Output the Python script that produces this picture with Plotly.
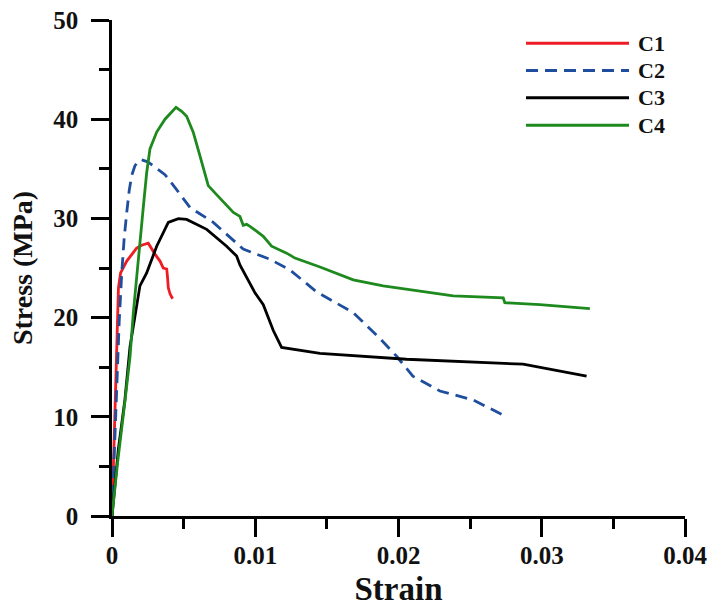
import plotly.graph_objects as go

# ---- data ----
c1_strain = [0, 0.0001, 0.0002, 0.00028, 0.00037, 0.00045, 0.0006, 0.0008, 0.00103, 0.0014,
             0.00172, 0.00207, 0.00253, 0.0030, 0.00335, 0.00358, 0.00382, 0.00388, 0.00393,
             0.00405, 0.00423]
c1_stress = [0, 5, 10, 15, 20.5, 23, 24.5, 25.0, 25.7, 26.4, 27.0, 27.3, 27.5, 26.4, 25.7,
             25.0, 24.9, 24.0, 23.0, 22.4, 21.9]

c2_strain = [0, 0.0001, 0.0002, 0.00033, 0.0005, 0.00068, 0.00085, 0.00103, 0.0012, 0.00137,
             0.0016, 0.00184, 0.00207, 0.0025, 0.00289, 0.0033, 0.0037, 0.00451, 0.00544,
             0.00707, 0.00916, 0.0110, 0.01242, 0.01428, 0.01684, 0.0187, 0.01987, 0.0210,
             0.02289, 0.02521, 0.02615, 0.02754]
c2_stress = [0, 4, 8.5, 13.7, 19.5, 24.5, 28, 30.6, 32.8, 34.3, 35.3, 35.8, 35.9, 35.7, 35.3,
             34.9, 34.4, 32.9, 31.1, 29.6, 26.9, 25.9, 24.8, 22.6, 20.5, 17.9, 16.1, 14.1,
             12.6, 11.7, 11.0, 10.0]

c3_strain = [0, 0.00044, 0.0009, 0.00126, 0.00195, 0.00242, 0.00312, 0.00393, 0.00463, 0.00521,
             0.00661, 0.0080, 0.0087, 0.00893, 0.00998, 0.01056, 0.01126, 0.01184, 0.01452,
             0.02056, 0.0287, 0.03313]
c3_stress = [0, 6.7, 11.7, 17.1, 23.2, 24.5, 27.2, 29.6, 29.97, 29.9, 28.9, 27.2, 26.2, 25.3,
             22.5, 21.3, 18.7, 17.0, 16.4, 15.8, 15.3, 14.1]

c4_strain = [0, 0.0004, 0.0009, 0.00126, 0.00149, 0.00172, 0.00195, 0.00219, 0.00242, 0.00265,
             0.00312, 0.0037, 0.00447, 0.00486, 0.00521, 0.00567, 0.00614, 0.00672, 0.0073,
             0.00847, 0.00893, 0.00916, 0.0094, 0.00963, 0.01056, 0.01114, 0.01219, 0.01277,
             0.01452, 0.01684, 0.01893, 0.02126, 0.02382, 0.02731, 0.02742, 0.02987, 0.03336]
c4_stress = [0, 5.5, 11.5, 16.1, 20.5, 23.8, 27.5, 31.2, 34.6, 37.0, 38.7, 40.0, 41.2, 40.8,
             40.3, 38.7, 36.3, 33.3, 32.4, 30.6, 30.2, 29.3, 29.4, 29.2, 28.2, 27.2, 26.5,
             26.0, 25.1, 23.8, 23.2, 22.7, 22.2, 22.0, 21.5, 21.3, 20.9]

series_names = ["C1", "C2", "C3", "C4"]
x_ticks = [0, 0.01, 0.02, 0.03, 0.04]
x_tick_labels = ["0", "0.01", "0.02", "0.03", "0.04"]
y_ticks = [0, 10, 20, 30, 40, 50]
y_tick_labels = ["0", "10", "20", "30", "40", "50"]

# ---- styling ----
FONT = "Liberation Serif"
colors = ["#ee1c24", "#1f4e9e", "#000000", "#1e8a1e"]
dashes = ["solid", "12px,7px", "solid", "solid"]
xs = [c1_strain, c2_strain, c3_strain, c4_strain]
ys = [c1_stress, c2_stress, c3_stress, c4_stress]

fig = go.Figure()
for name, x, y, c, d in zip(series_names, xs, ys, colors, dashes):
    fig.add_trace(go.Scatter(x=x, y=y, mode="lines", name=name,
                             line=dict(color=c, width=2.8, dash=d),
                             showlegend=False))

# custom legend (long line samples)
leg_y = [0.953, 0.898, 0.843, 0.788]
for name, c, d, yy in zip(series_names, colors, dashes, leg_y):
    fig.add_shape(type="line", xref="paper", yref="paper",
                  x0=0.7225, x1=0.9023, y0=yy, y1=yy,
                  line=dict(color=c, width=3, dash=d))
    fig.add_annotation(xref="paper", yref="paper", x=0.914, y=yy,
                       text="<b>%s</b>" % name, showarrow=False,
                       xanchor="left", yanchor="middle",
                       font=dict(family=FONT, size=22, color="#111111"))

axis_common = dict(
    showline=True, linecolor="black", linewidth=2.6,
    ticks="outside", ticklen=18, tickwidth=2.6, tickcolor="black",
    showgrid=False, zeroline=False, automargin=False,
    tickfont=dict(family=FONT, size=25, color="#111111", weight="bold"),
)

fig.update_xaxes(**axis_common, range=[0, 0.04], tickvals=x_ticks, ticktext=x_tick_labels,
                 minor=dict(ticks="outside", ticklen=10, tickwidth=2.6, tickcolor="black",
                            dtick=0.005, tick0=0),
                 ticklabelstandoff=-3,
                 title=dict(text="<b>Strain</b>", standoff=23,
                            font=dict(family=FONT, size=33, color="#111111")))
fig.update_yaxes(**axis_common, range=[0, 50], tickvals=y_ticks, ticktext=y_tick_labels,
                 minor=dict(ticks="outside", ticklen=10, tickwidth=2.6, tickcolor="black",
                            dtick=5, tick0=0),
                 ticklabelstandoff=8,
                 title=dict(text="<b>Stress (MPa)</b>", standoff=13,
                            font=dict(family=FONT, size=28, color="#111111")))

fig.update_layout(
    width=712, height=607,
    margin=dict(l=112, r=27, t=20, b=91),
    paper_bgcolor="white", plot_bgcolor="white",
)

fig.write_html("out.html")
